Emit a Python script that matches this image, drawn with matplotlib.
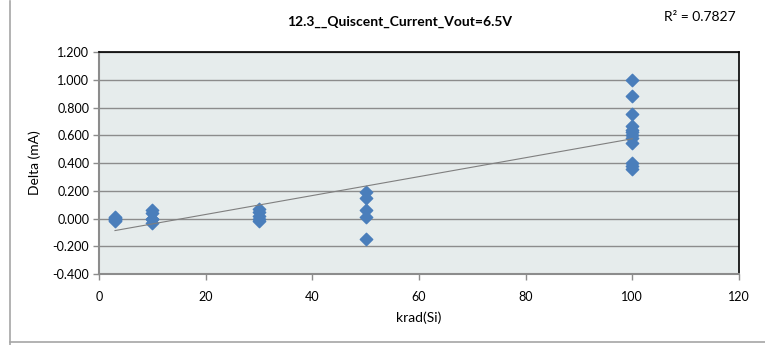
import numpy as np
import matplotlib
matplotlib.use("Agg")
import matplotlib.pyplot as plt
from matplotlib.lines import Line2D

plt.rcParams['font.family'] = ['Lato', 'DejaVu Sans']

dose_3 = [3, 3, 3, 3, 3, 3]
delta_3 = [0.010, 0.000, -0.010, -0.020, 0.005, -0.005]
dose_10 = [10, 10, 10, 10, 10]
delta_10 = [0.060, 0.040, 0.000, -0.005, -0.035]
dose_30 = [30, 30, 30, 30, 30]
delta_30 = [0.065, 0.045, 0.020, 0.000, -0.015]
dose_50 = [50, 50, 50, 50, 50]
delta_50 = [0.190, 0.145, 0.060, 0.010, -0.150]
dose_100 = [100] * 12
delta_100 = [1.000, 0.884, 0.754, 0.665, 0.640, 0.620, 0.600, 0.580, 0.545, 0.400, 0.380, 0.355]

x = np.array(dose_3 + dose_10 + dose_30 + dose_50 + dose_100, dtype=float)
y = np.array(delta_3 + delta_10 + delta_30 + delta_50 + delta_100, dtype=float)

title = "12.3__Quiscent_Current_Vout=6.5V"
r2_text = "R\u00b2 = 0.7827"
xticks = [0, 20, 40, 60, 80, 100, 120]
yticks = [-0.4, -0.2, 0.0, 0.2, 0.4, 0.6, 0.8, 1.0, 1.2]

W, H = 765, 345
fig = plt.figure(figsize=(W / 100, H / 100), dpi=100)
ax = fig.add_axes([99 / W, 1 - 274 / H, (739 - 99) / W, (274 - 52) / H])
ax.set_facecolor('#E6ECEC')

ax.set_xlim(0, 120)
ax.set_ylim(-0.4, 1.2)
ax.set_xticks(xticks)
ax.set_yticks(yticks)
ax.set_yticklabels([f"{v:.3f}" for v in yticks])
ax.grid(axis='y', color='#8C8C8C', linewidth=1.0)
ax.set_axisbelow(True)

for s in ['left', 'bottom']:
    ax.spines[s].set_color('#8C8C8C')
    ax.spines[s].set_linewidth(1.5)
for s in ['top', 'right']:
    ax.spines[s].set_color('black')
    ax.spines[s].set_linewidth(1.2)

ax.tick_params(axis='both', labelsize=9, length=4, color='#8C8C8C', width=1)
ax.tick_params(axis='x', pad=8)
ax.tick_params(axis='y', pad=3)

ax.scatter(x, y, marker='D', s=40, color='#4A7EBB', edgecolors='#4A7EBB', zorder=3)

coef = np.polyfit(x, y, 1)
xf = np.array([x.min(), x.max()])
ax.plot(xf, np.polyval(coef, xf), color='#7F7F7F', linewidth=0.8, zorder=4)

ax.set_xlabel('krad(Si)', fontsize=10, labelpad=6)
ax.set_ylabel('Delta (mA)', fontsize=10, labelpad=8)

fig.text(400 / W, 1 - 22 / H, title, ha='center', va='center', fontsize=10, fontweight='bold')
fig.text(700 / W, 1 - 17 / H, r2_text, ha='center', va='center', fontsize=10)

fig.add_artist(Line2D([9.5 / W, 9.5 / W], [0, 1 - 0.5 / H], transform=fig.transFigure, color='#A6A6A6', linewidth=1.2))
fig.add_artist(Line2D([9.5 / W, 1], [1 - 342 / H, 1 - 342 / H], transform=fig.transFigure, color='#A6A6A6', linewidth=1.2))

fig.savefig('out.png', dpi=100)
